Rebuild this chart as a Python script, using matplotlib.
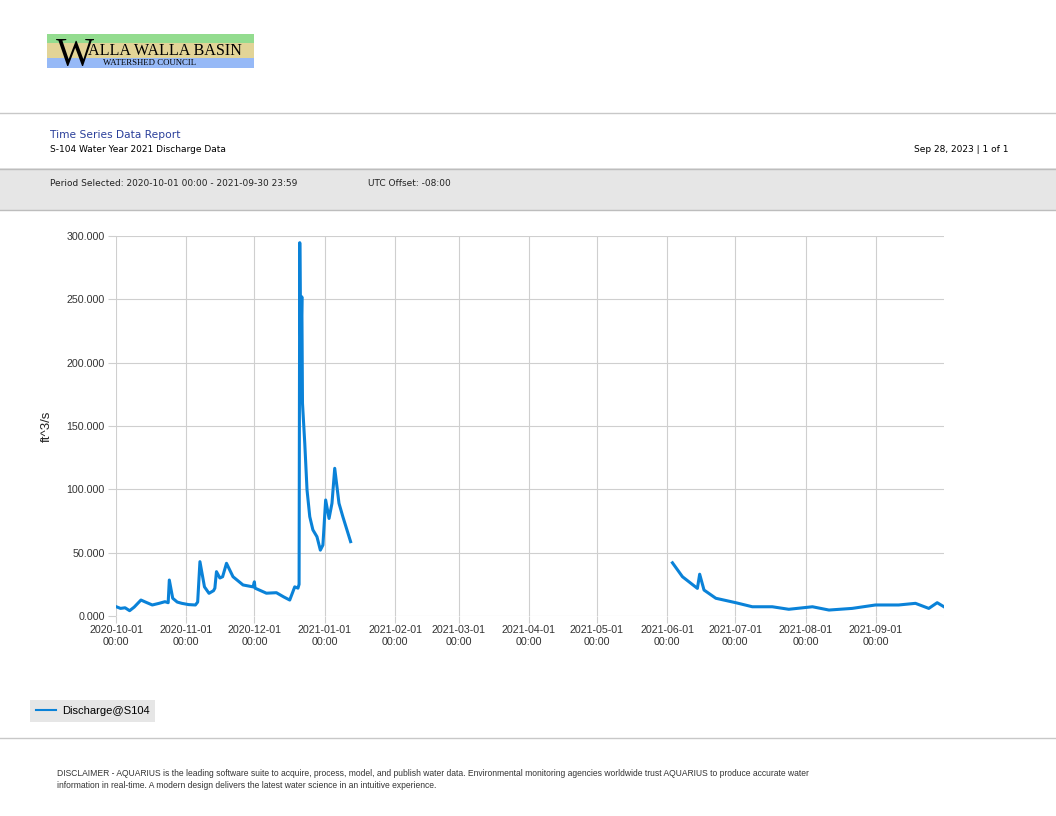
import datetime as dt
import matplotlib
matplotlib.use('Agg')
import matplotlib.pyplot as plt
import matplotlib.dates as mdates
from matplotlib.patches import Rectangle
from matplotlib.lines import Line2D

# discharge readings (ft^3/s), two periods with a gap between
dates_a = ['2020-10-01 00:00', '2020-10-03 00:00', '2020-10-05 00:00', '2020-10-07 00:00',
           '2020-10-09 00:00', '2020-10-12 00:00', '2020-10-14 00:00', '2020-10-17 00:00',
           '2020-10-20 00:00', '2020-10-22 14:00', '2020-10-24 00:00', '2020-10-24 12:00',
           '2020-10-26 00:00', '2020-10-28 00:00', '2020-10-30 00:00', '2020-11-02 00:00',
           '2020-11-05 00:00', '2020-11-06 00:00', '2020-11-07 00:00', '2020-11-09 00:00',
           '2020-11-11 00:00', '2020-11-13 00:00', '2020-11-13 14:00', '2020-11-14 07:00',
           '2020-11-15 19:00', '2020-11-17 00:00', '2020-11-18 17:00', '2020-11-21 14:00',
           '2020-11-26 00:00', '2020-11-30 10:00', '2020-12-01 00:00', '2020-12-01 07:00',
           '2020-12-06 07:00', '2020-12-10 17:00', '2020-12-14 00:00', '2020-12-16 14:00',
           '2020-12-18 19:00', '2020-12-20 05:00', '2020-12-20 17:00', '2020-12-21 00:00',
           '2020-12-21 10:00', '2020-12-21 22:00', '2020-12-22 05:00', '2020-12-23 05:00',
           '2020-12-24 05:00', '2020-12-25 10:00', '2020-12-26 19:00', '2020-12-28 14:00',
           '2020-12-30 02:00', '2020-12-31 05:00', '2021-01-01 10:00', '2021-01-02 22:00',
           '2021-01-04 05:00', '2021-01-05 10:00', '2021-01-07 07:00', '2021-01-09 00:00',
           '2021-01-12 10:00']
flow_a = [7.4, 6.0, 6.5, 4.2, 7.0, 12.6, 11.0, 8.7, 10.0, 11.3, 10.5, 28.4,
          14.0, 11.0, 10.0, 9.0, 8.7, 11.0, 42.9, 23.0, 17.9, 20.0, 22.0, 35.0,
          30.0, 31.0, 41.6, 31.0, 24.5, 23.0, 27.0, 22.0, 18.0, 18.4, 15.0, 12.6,
          23.0, 22.0, 25.0, 294.7, 204.7, 252.0, 168.0, 136.5, 99.5, 78.4, 68.0, 62.6,
          52.0, 56.0, 91.6, 77.0, 89.0, 116.6, 89.0, 78.4, 58.7]

dates_b = ['2021-06-03 07:00', '2021-06-07 17:00', '2021-06-14 07:00', '2021-06-15 07:00',
           '2021-06-17 05:00', '2021-06-22 10:00', '2021-07-01 05:00', '2021-07-08 12:00',
           '2021-07-17 07:00', '2021-07-24 14:00', '2021-08-04 00:00', '2021-08-11 07:00',
           '2021-08-21 12:00', '2021-08-31 19:00', '2021-09-11 00:00', '2021-09-18 10:00',
           '2021-09-24 07:00', '2021-09-28 00:00', '2021-09-30 23:00']
flow_b = [42.0, 31.0, 21.8, 33.0, 20.5, 14.0, 10.5, 7.3, 7.3, 5.3, 7.3, 4.7,
          6.0, 8.7, 8.7, 10.0, 6.0, 10.5, 7.3]

yticks = [0, 50, 100, 150, 200, 250, 300]

W, H = 1056, 816
def fx(px):
    return px / W
def fy(py):
    return 1 - py / H

to_dt = lambda s: dt.datetime.strptime(s, '%Y-%m-%d %H:%M')
ta = [to_dt(s) for s in dates_a]
tb = [to_dt(s) for s in dates_b]

fig = plt.figure(figsize=(10.56, 8.16), dpi=100)
fig.patch.set_facecolor('white')

# logo
fig.add_artist(Rectangle((fx(47), fy(43.3)), fx(207), 9 / H, transform=fig.transFigure,
                         facecolor='#93dc8f', edgecolor='none'))
fig.add_artist(Rectangle((fx(47), fy(57.5)), fx(207), 14.2 / H, transform=fig.transFigure,
                         facecolor='#e2d497', edgecolor='none'))
fig.add_artist(Rectangle((fx(47), fy(68.3)), fx(207), 10.8 / H, transform=fig.transFigure,
                         facecolor='#96b9f7', edgecolor='none'))
fig.text(fx(56), fy(65.5), 'W', family='Liberation Serif', fontsize=29, color='black',
         va='baseline', ha='left')
fig.text(fx(88), fy(55.3), 'ALLA WALLA BASIN', family='Liberation Serif', fontsize=11.6,
         color='black', va='baseline', ha='left')
fig.text(fx(103), fy(65), 'WATERSHED COUNCIL', family='Liberation Serif', fontsize=6.3,
         color='black', va='baseline', ha='left')

# header lines / band
fig.add_artist(Line2D([0, 1], [fy(113), fy(113)], transform=fig.transFigure, color='#c8c8c8', lw=1))
fig.add_artist(Rectangle((0, fy(210)), 1, 42 / H, transform=fig.transFigure,
                         facecolor='#e6e6e6', edgecolor='none'))
fig.add_artist(Line2D([0, 1], [fy(168.5), fy(168.5)], transform=fig.transFigure, color='#bdbdbd', lw=1))
fig.add_artist(Line2D([0, 1], [fy(210), fy(210)], transform=fig.transFigure, color='#bdbdbd', lw=1))
fig.add_artist(Line2D([0, 1], [fy(738), fy(738)], transform=fig.transFigure, color='#c8c8c8', lw=1))

fig.text(fx(50), fy(135), 'Time Series Data Report', fontsize=7.7, color='#2a3f9a', va='center')
fig.text(fx(50), fy(149), 'S-104 Water Year 2021 Discharge Data', fontsize=6.5, color='black', va='center')
fig.text(fx(1008), fy(149), 'Sep 28, 2023 | 1 of 1', fontsize=6.5, color='black', va='center', ha='right')
fig.text(fx(50), fy(183), 'Period Selected: 2020-10-01 00:00 - 2021-09-30 23:59', fontsize=6.5,
         color='#222222', va='center')
fig.text(fx(368), fy(183), 'UTC Offset: -08:00', fontsize=6.5, color='#222222', va='center')

fig.text(fx(57), fy(774), 'DISCLAIMER - AQUARIUS is the leading software suite to acquire, process, model, and '
         'publish water data. Environmental monitoring agencies worldwide trust AQUARIUS to produce accurate water',
         family='Liberation Sans', fontsize=6.15, color='#333333', va='center')
fig.text(fx(57), fy(785), 'information in real-time. A modern design delivers the latest water science in an '
         'intuitive experience.', family='Liberation Sans', fontsize=6.15, color='#333333', va='center')

# chart
ax = fig.add_axes([fx(116), fy(616), fx(944) - fx(116), (616 - 236) / H])
line_color = '#0a82d8'
ax.plot(ta, flow_a, color=line_color, lw=2.2, label='Discharge@S104')
ax.plot(tb, flow_b, color=line_color, lw=2.2)

ax.set_xlim(dt.datetime(2020, 10, 1), dt.datetime(2021, 9, 30, 23, 59))
ax.set_ylim(0, 300)
ax.set_yticks(yticks)
ax.set_yticklabels(['%.3f' % v for v in yticks])
ax.xaxis.set_major_locator(mdates.MonthLocator())
ax.xaxis.set_major_formatter(mdates.DateFormatter('%Y-%m-%d\n%H:%M'))
for s in ax.spines.values():
    s.set_visible(False)
ax.grid(True, color='#cfcfcf', lw=0.8)
ax.set_axisbelow(True)
ax.tick_params(axis='y', length=6, width=0.8, color='#cfcfcf', pad=2, labelsize=7.7,
               labelcolor='#333333')
ax.tick_params(axis='x', length=5, width=0.8, color='#cfcfcf', pad=1.5, labelsize=7.7,
               labelcolor='#333333')
for lbl in ax.get_xticklabels() + ax.get_yticklabels():
    lbl.set_family('Liberation Sans')
ax.set_ylabel('ft^3/s', fontsize=9.5, family='Liberation Sans', color='#222222', labelpad=10)

leg = ax.legend(loc='center left', bbox_to_anchor=(fx(30), fy(711)), bbox_transform=fig.transFigure,
                borderaxespad=0, fancybox=False, edgecolor='none', facecolor='#e6e6e6', framealpha=1,
                prop={'family': 'Liberation Sans', 'size': 8}, handlelength=1.8, borderpad=0.55,
                handletextpad=0.5)
for h in leg.legend_handles:
    h.set_linewidth(1.5)

fig.savefig('out.png', dpi=100)
